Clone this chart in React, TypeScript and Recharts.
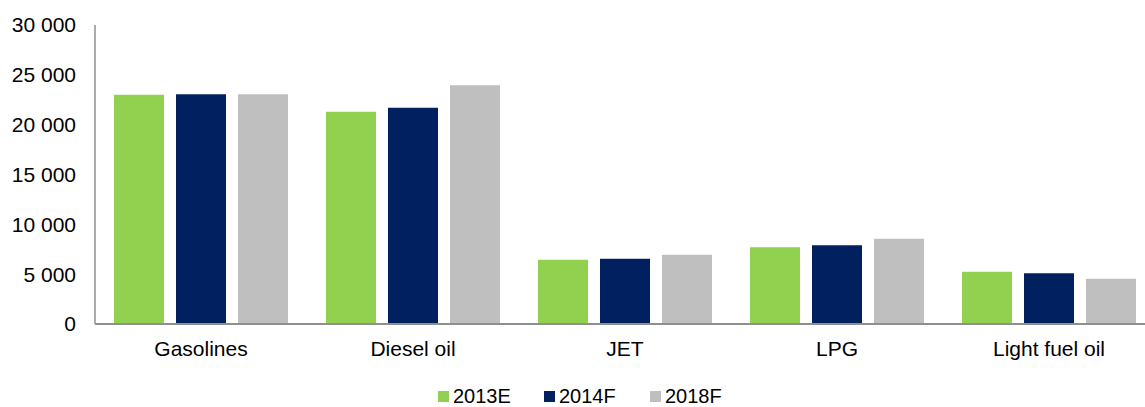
import { BarChart, Bar, XAxis, YAxis, Legend } from 'recharts'

const categories = ['Gasolines', 'Diesel oil', 'JET', 'LPG', 'Light fuel oil']
const values2013E = [23000, 21300, 6450, 7700, 5250]
const values2014F = [23050, 21700, 6550, 7900, 5100]
const values2018F = [23050, 23950, 6950, 8550, 4550]
const yTicks = [0, 5000, 10000, 15000, 20000, 25000, 30000]

const SERIES = [
  { key: 'y2013E', name: '2013E', color: '#92D050' },
  { key: 'y2014F', name: '2014F', color: '#002060' },
  { key: 'y2018F', name: '2018F', color: '#BFBFBF' },
]

const FONT = '"Liberation Sans", Arial, sans-serif'
const AXIS = '#8f8f8f'

const rows = categories.map((c, i) => ({
  category: c,
  y2013E: values2013E[i],
  y2014F: values2014F[i],
  y2018F: values2018F[i],
}))

// 30000 -> "30 000"
function fmt(v: number) {
  return String(v).replace(/\B(?=(\d{3})+(?!\d))/g, ' ')
}

function LegendBox() {
  return (
    <div style={{ height: 38, paddingTop: 18, paddingLeft: 438, boxSizing: 'border-box', display: 'flex', fontFamily: FONT }}>
      {SERIES.map((s) => (
        <div key={s.key} style={{ width: 106, display: 'flex', alignItems: 'center', height: 19 }}>
          <span style={{ width: 11, height: 11, background: s.color, display: 'inline-block', marginRight: 4 }} />
          <span style={{ fontSize: 20, lineHeight: '19px', color: '#000' }}>{s.name}</span>
        </div>
      ))}
    </div>
  )
}

export default function App() {
  return (
    <div style={{ position: 'absolute', left: 0, top: 0, width: 1145, height: 407, overflow: 'hidden', background: '#fff' }}>
      <BarChart
        width={1160}
        height={407}
        data={rows}
        margin={{ top: 25, right: 5, left: 0, bottom: 0 }}
        barGap={12}
        barSize={50}
      >
        <XAxis
          dataKey="category"
          height={45}
          axisLine={{ stroke: AXIS, strokeWidth: 2 }}
          tickLine={false}
          tickSize={0}
          tickMargin={17}
          tick={{ fontSize: 21, fill: '#000', fontFamily: FONT }}
          interval={0}
        />
        <YAxis
          width={95}
          domain={[0, 30000]}
          ticks={yTicks}
          interval={0}
          tickFormatter={fmt}
          axisLine={{ stroke: AXIS, strokeWidth: 1.5 }}
          tickLine={false}
          tickSize={0}
          tickMargin={19}
          tick={{ fontSize: 21, fill: '#000', fontFamily: FONT }}
        />
        <Legend verticalAlign="bottom" content={<LegendBox />} wrapperStyle={{ left: 0, width: 1145 }} />
        {SERIES.map((s) => (
          <Bar key={s.key} dataKey={s.key} name={s.name} fill={s.color} isAnimationActive={false} />
        ))}
      </BarChart>
    </div>
  )
}
